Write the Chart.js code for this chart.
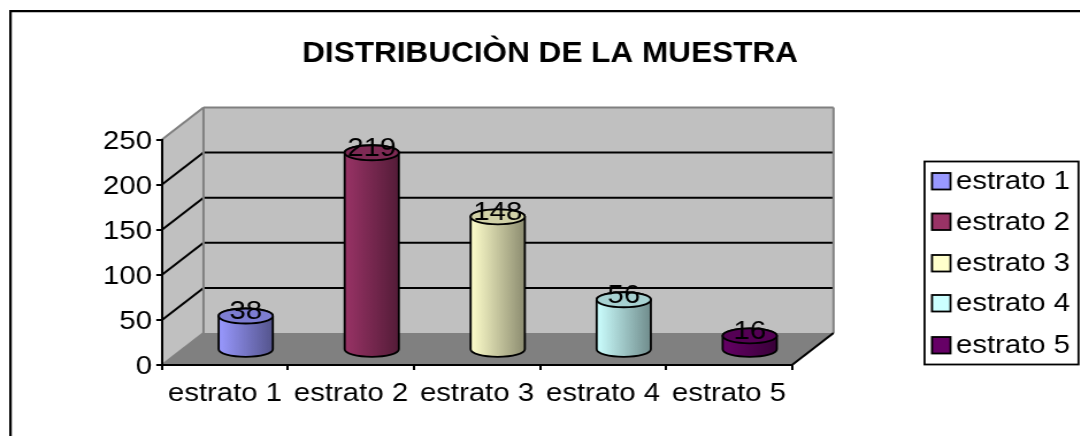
<!DOCTYPE html>
<html>
<head>
<meta charset="utf-8">
<script src="https://cdn.jsdelivr.net/npm/chart.js@4"></script>
<style>
html, body { margin: 0; padding: 0; background: #fff; overflow: hidden; }
/* the reference is a picture stretched sideways, so the canvas is stretched too */
#wrap { width: 940px; height: 436px; transform: scaleX(1.15); transform-origin: 0 0; }
</style>
</head>
<body>
<div id="wrap"><canvas id="ctx" width="940" height="436"></canvas></div>
<script>
var categories = ['estrato 1', 'estrato 2', 'estrato 3', 'estrato 4', 'estrato 5']
var values = [38, 219, 148, 56, 16]
var yTickValues = [0, 50, 100, 150, 200, 250]
var barColors = ['#9999FF', '#993366', '#FFFFCC', '#CCFFFF', '#660066']
var titleText = 'DISTRIBUCIÒN DE LA MUESTRA'

var FONT = '"Liberation Sans", Arial, sans-serif'
var STRETCH = 1.15
var DEPTH_X = 41.5 / STRETCH
var DEPTH_Y = -32

function px(x) { return x / STRETCH }

function shade(hex, f) {
    var n = parseInt(hex.slice(1), 16)
    var r = Math.round((n >> 16 & 255) * f)
    var g = Math.round((n >> 8 & 255) * f)
    var b = Math.round((n & 255) * f)
    return 'rgb(' + r + ',' + g + ',' + b + ')'
}

function poly(ctx, pts, fill) {
    ctx.beginPath()
    pts.forEach(function(p, i) {
        if (i == 0) ctx.moveTo(p[0], p[1])
        else ctx.lineTo(p[0], p[1])
    })
    ctx.closePath()
    ctx.fillStyle = fill
    ctx.fill()
}

function line(ctx, x1, y1, x2, y2, color, width) {
    ctx.beginPath()
    ctx.moveTo(x1, y1)
    ctx.lineTo(x2, y2)
    ctx.strokeStyle = color
    ctx.lineWidth = width
    ctx.stroke()
}

// walls, floor, gridlines and the outer frame go under the axes
var wallsPlugin = {
    id: 'walls',
    beforeDraw: function(chart) {
        var ctx = chart.ctx
        var a = chart.chartArea
        var y = chart.scales.y
        var l = a.left, r = a.right, t = a.top, b = a.bottom
        var bl = l + DEPTH_X, br = r + DEPTH_X
        var bt = t + DEPTH_Y, bb = b + DEPTH_Y
        ctx.save()
        // outer frame, only top and left are in the picture
        line(ctx, px(10.5), 11.2, 940, 11.2, '#000', 2.2)
        line(ctx, px(10.5), 10, px(10.5), 436, '#000', 2.2)
        poly(ctx, [[l, t], [bl, bt], [bl, bb], [l, b]], '#C0C0C0')
        poly(ctx, [[bl, bt], [br, bt], [br, bb], [bl, bb]], '#C0C0C0')
        poly(ctx, [[l, b], [r, b], [br, bb], [bl, bb]], '#808080')
        y.ticks.forEach(function(tick) {
            if (tick.value == 0 || tick.value == 250) return
            var py = y.getPixelForValue(tick.value)
            line(ctx, l, py, bl, py + DEPTH_Y, '#000', 2)
            line(ctx, bl, py + DEPTH_Y, br, py + DEPTH_Y, '#000', 2)
        })
        line(ctx, l, t, bl, bt, '#808080', 2)
        line(ctx, bl, bt, br, bt, '#808080', 2)
        line(ctx, bl, bt, bl, bb, '#808080', 2)
        line(ctx, br, bt, br, bb, '#808080', 2)
        line(ctx, l, b, bl, bb, '#808080', 2)
        line(ctx, r, b, br, bb, '#000', 2)
        ctx.restore()
    }
}

// bars are drawn as cylinders from the elements that the scales placed
var cylinderPlugin = {
    id: 'cylinders',
    beforeDatasetDraw: function(chart, args) {
        var ctx = chart.ctx
        var meta = args.meta
        var ry = 7.5
        ctx.save()
        meta.data.forEach(function(bar, i) {
            var rx = bar.width / 2
            var cx = bar.x + DEPTH_X / 2
            var top = bar.y + DEPTH_Y * 0.46
            var base = bar.base + DEPTH_Y * 0.46
            var col = barColors[i]
            var g = ctx.createLinearGradient(cx - rx, 0, cx + rx, 0)
            g.addColorStop(0, col)
            g.addColorStop(1, shade(col, 0.55))
            ctx.beginPath()
            ctx.moveTo(cx - rx, top)
            ctx.lineTo(cx - rx, base)
            ctx.ellipse(cx, base, rx, ry, 0, Math.PI, 0, true)
            ctx.lineTo(cx + rx, top)
            ctx.ellipse(cx, top, rx, ry, 0, 0, Math.PI, true)
            ctx.closePath()
            ctx.fillStyle = g
            ctx.fill()
            ctx.strokeStyle = '#000'
            ctx.lineWidth = 1.8
            ctx.stroke()
            ctx.beginPath()
            ctx.ellipse(cx, top, rx, ry, 0, 0, Math.PI * 2)
            ctx.fillStyle = shade(col, 0.82)
            ctx.fill()
            ctx.stroke()
        })
        ctx.font = '25.5px ' + FONT
        ctx.fillStyle = '#000'
        ctx.textAlign = 'center'
        ctx.textBaseline = 'middle'
        meta.data.forEach(function(bar, i) {
            ctx.fillText(values[i], bar.x + DEPTH_X / 2, bar.y + DEPTH_Y * 0.46 - 4)
        })
        ctx.restore()
        return false
    },
    // title and legend frame
    afterDraw: function(chart) {
        var ctx = chart.ctx
        var rows = [181, 221.5, 263, 303, 345]
        ctx.save()
        ctx.save()
        ctx.translate(px(550), 54)
        ctx.scale(0.914, 1)
        ctx.font = 'bold 30px ' + FONT
        ctx.fillStyle = '#000'
        ctx.textAlign = 'center'
        ctx.textBaseline = 'middle'
        ctx.fillText(titleText, 0, 0)
        ctx.restore()
        ctx.lineWidth = 1.8
        ctx.strokeStyle = '#000'
        ctx.strokeRect(px(924.5), 161.5, px(154), 203)
        ctx.font = '25.5px ' + FONT
        ctx.textAlign = 'left'
        ctx.textBaseline = 'middle'
        categories.forEach(function(name, i) {
            ctx.fillStyle = barColors[i]
            ctx.fillRect(px(932), rows[i] - 8, px(18.5), 16.5)
            ctx.strokeRect(px(932), rows[i] - 8, px(18.5), 16.5)
            ctx.fillStyle = '#000'
            ctx.fillText(name, px(956), rows[i] + 1)
        })
        ctx.restore()
    }
}

new Chart(document.getElementById('ctx'), {
    type: 'bar',
    data: {
        labels: categories,
        datasets: [{ data: values, backgroundColor: barColors, barPercentage: 0.43, categoryPercentage: 1 }]
    },
    options: {
        responsive: false,
        animation: false,
        devicePixelRatio: 1,
        layout: { padding: { left: 0, right: 940 - px(792), top: 139.5, bottom: 0 } },
        plugins: {
            legend: { display: false },
            tooltip: { enabled: false }
        },
        scales: {
            x: {
                afterFit: function(scale) { scale.height = 71 },
                grid: { drawOnChartArea: false, color: '#000', lineWidth: 2, tickLength: 5 },
                border: { color: '#000', width: 2 },
                ticks: { color: '#000', font: { family: FONT, size: 25.5 }, autoSkip: false, maxRotation: 0, padding: 9 }
            },
            y: {
                min: 0,
                max: 250,
                afterFit: function(scale) { scale.width = px(162) },
                afterBuildTicks: function(scale) {
                    scale.ticks = yTickValues.map(function(v) { return { value: v } })
                },
                grid: { drawOnChartArea: false, color: '#000', lineWidth: 2, tickLength: 5 },
                border: { color: '#000', width: 2 },
                ticks: { color: '#000', font: { family: FONT, size: 25.5 }, padding: 3.7, labelOffset: 2 }
            }
        }
    },
    plugins: [wallsPlugin, cylinderPlugin]
})
</script>
</body>
</html>
